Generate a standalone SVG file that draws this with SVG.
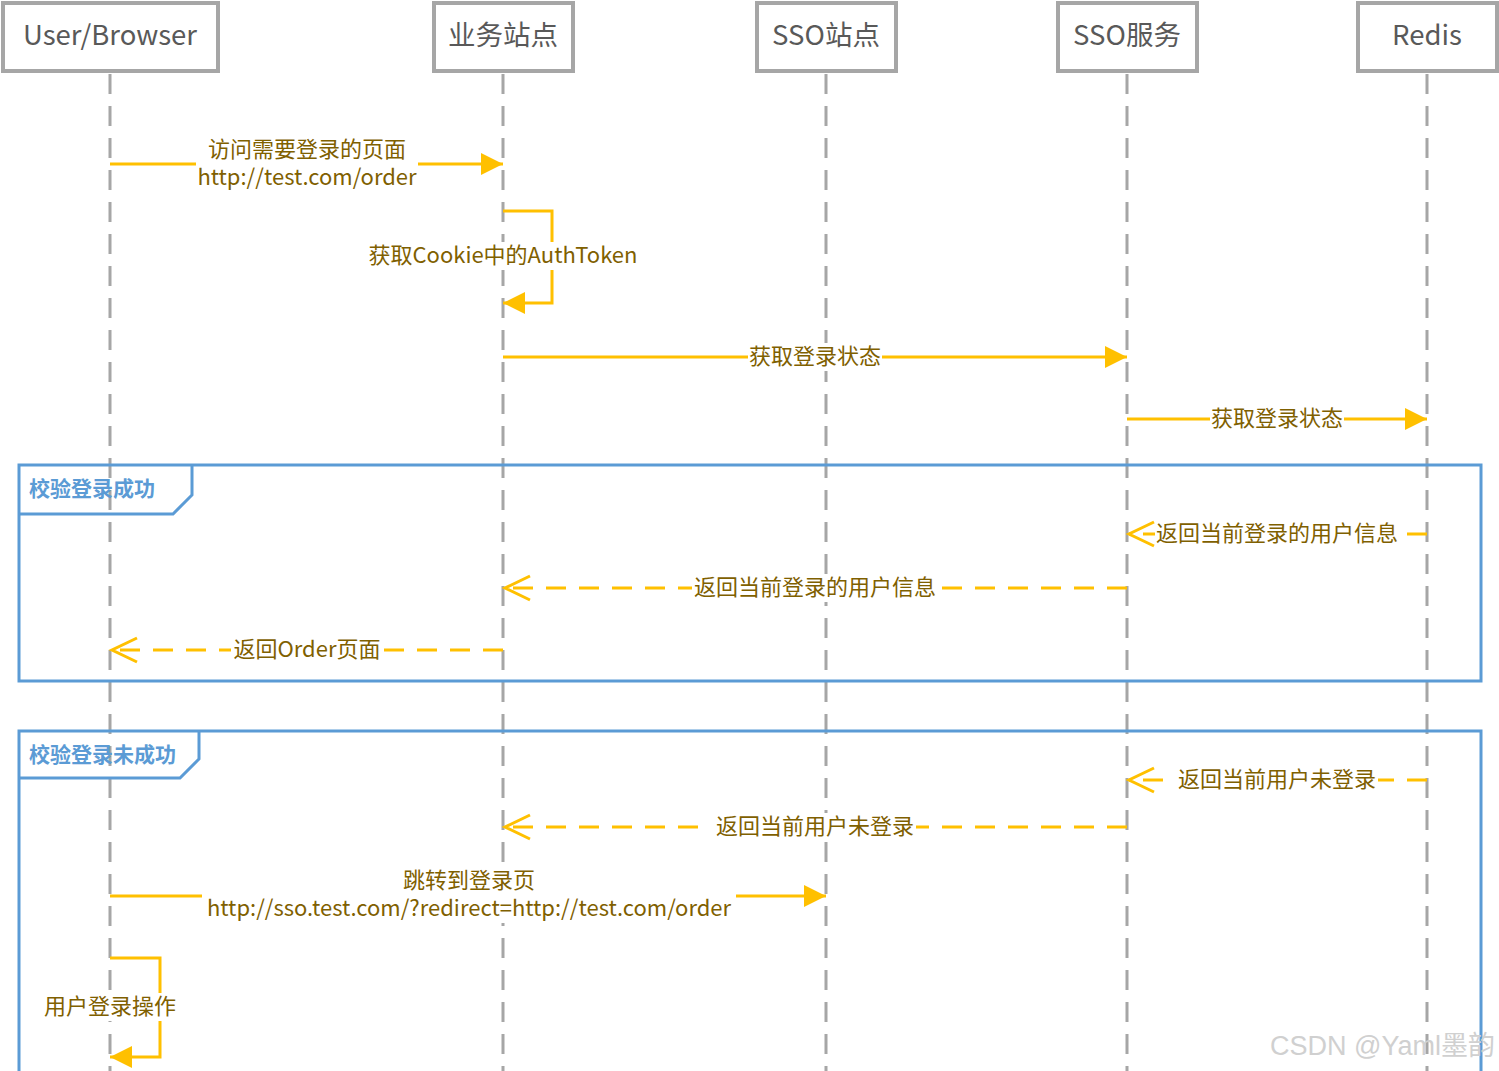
<svg xmlns="http://www.w3.org/2000/svg" width="1499" height="1071" viewBox="0 0 1499 1071">
<style>
.hdr{fill:#fff;stroke:#a6a6a6;stroke-width:4}
.hdrt{font-family:"Noto Sans CJK SC","Noto Sans",sans-serif;font-size:27.5px;fill:#595959;text-anchor:middle}
.life{stroke:#a6a6a6;stroke-width:3;stroke-dasharray:20 12;fill:none}
.msg{stroke:#FFC000;stroke-width:3;fill:none}
.ret{stroke:#FFC000;stroke-width:3;fill:none;stroke-dasharray:20 13}
.lbl{font-family:"Noto Sans CJK SC","Noto Sans",sans-serif;font-size:22px;fill:#7F6000;text-anchor:middle}
.bg{fill:#fff}
.frame{fill:none;stroke:#5B9BD5;stroke-width:3}
.ftxt{font-family:"Noto Sans CJK SC",sans-serif;font-size:21px;font-weight:bold;fill:#5B9BD5}
.wm{font-family:"Liberation Sans","Noto Sans CJK SC",sans-serif;font-size:27px;fill:#d0d0d0}
</style>
<defs>
<marker id="fill" markerUnits="userSpaceOnUse" markerWidth="24" markerHeight="24" refX="22" refY="11" orient="auto"><path d="M0,0 L22,11 L0,22 Z" fill="#FFC000"/></marker>
<marker id="open" markerUnits="userSpaceOnUse" markerWidth="30" markerHeight="30" refX="26" refY="14" orient="auto"><path d="M1,2 L26,14 L1,26" fill="none" stroke="#FFC000" stroke-width="3"/></marker>
</defs>
<rect width="1499" height="1071" fill="#fff"/>

<g id="lifelines">
<line class="life" x1="110" y1="74" x2="110" y2="1071"/>
<line class="life" x1="503" y1="74" x2="503" y2="1071"/>
<line class="life" x1="826" y1="74" x2="826" y2="1071"/>
<line class="life" x1="1127" y1="74" x2="1127" y2="1071"/>
<line class="life" x1="1427" y1="74" x2="1427" y2="1071"/>
</g>

<g id="node-user"><rect class="hdr" x="3" y="3" width="215" height="68"/><text class="hdrt" x="110" y="45">User/Browser</text></g>
<g id="node-biz"><rect class="hdr" x="434" y="3" width="139" height="68"/><text class="hdrt" x="503" y="45">业务站点</text></g>
<g id="node-ssosite"><rect class="hdr" x="757" y="3" width="139" height="68"/><text class="hdrt" x="826" y="45">SSO站点</text></g>
<g id="node-ssosvc"><rect class="hdr" x="1058" y="3" width="139" height="68"/><text class="hdrt" x="1127" y="45">SSO服务</text></g>
<g id="node-redis"><rect class="hdr" x="1358" y="3" width="139" height="68"/><text class="hdrt" x="1427" y="45">Redis</text></g>

<g id="frame-success">
<rect class="frame" x="19" y="465" width="1462" height="216"/>
<path class="frame" d="M19,514 L173,514 L192,495 L192,465"/>
<text class="ftxt" x="29" y="496">校验登录成功</text>
</g>
<g id="frame-fail">
<path class="frame" d="M19,1071 L19,731 L1481,731 L1481,1071"/>
<path class="frame" d="M19,778 L180,778 L199,759 L199,731"/>
<text class="ftxt" x="29" y="762">校验登录未成功</text>
</g>

<g id="connectors">
<line class="msg" x1="110" y1="164" x2="503" y2="164" marker-end="url(#fill)"/>
<rect class="bg" x="196" y="137" width="222" height="54"/>
<text class="lbl" x="307" y="157">访问需要登录的页面</text>
<text class="lbl" x="307" y="185">http://test.com/order</text>

<path class="msg" d="M503,211 H552 V303 H503" marker-end="url(#fill)"/>
<rect class="bg" x="364" y="242" width="278" height="28"/>
<text class="lbl" x="503" y="263">获取Cookie中的AuthToken</text>

<line class="msg" x1="503" y1="357" x2="1127" y2="357" marker-end="url(#fill)"/>
<rect class="bg" x="748" y="343" width="134" height="28"/>
<text class="lbl" x="815" y="364">获取登录状态</text>

<line class="msg" x1="1127" y1="419" x2="1427" y2="419" marker-end="url(#fill)"/>
<rect class="bg" x="1210" y="405" width="134" height="28"/>
<text class="lbl" x="1277" y="426">获取登录状态</text>

<line class="ret" x1="1427" y1="534" x2="1129" y2="534" marker-end="url(#open)"/>
<rect class="bg" x="1155" y="520" width="252" height="28"/>
<text class="lbl" x="1277" y="541">返回当前登录的用户信息</text>

<line class="ret" x1="1127" y1="588" x2="505" y2="588" marker-end="url(#open)"/>
<rect class="bg" x="692" y="574" width="250" height="28"/>
<text class="lbl" x="815" y="595">返回当前登录的用户信息</text>

<line class="ret" x1="503" y1="650" x2="112" y2="650" marker-end="url(#open)"/>
<rect class="bg" x="231" y="636" width="153" height="28"/>
<text class="lbl" x="307" y="657">返回Order页面</text>

<line class="ret" x1="1427" y1="780" x2="1129" y2="780" marker-end="url(#open)"/>
<rect class="bg" x="1170" y="766" width="208" height="28"/>
<text class="lbl" x="1277" y="787">返回当前用户未登录</text>

<line class="ret" x1="1127" y1="827" x2="505" y2="827" marker-end="url(#open)"/>
<rect class="bg" x="710" y="813" width="206" height="28"/>
<text class="lbl" x="815" y="834">返回当前用户未登录</text>

<line class="msg" x1="110" y1="896" x2="826" y2="896" marker-end="url(#fill)"/>
<rect class="bg" x="202" y="869" width="534" height="54"/>
<text class="lbl" x="469" y="888">跳转到登录页</text>
<text class="lbl" x="469" y="916">http://sso.test.com/?redirect=http://test.com/order</text>

<path class="msg" d="M110,958 H160 V1057 H110" marker-end="url(#fill)"/>
<rect class="bg" x="42" y="993" width="136" height="28"/>
<text class="lbl" x="110" y="1014">用户登录操作</text>
</g>

<text class="wm" x="1270" y="1055">CSDN @Yaml墨韵</text>
</svg>
